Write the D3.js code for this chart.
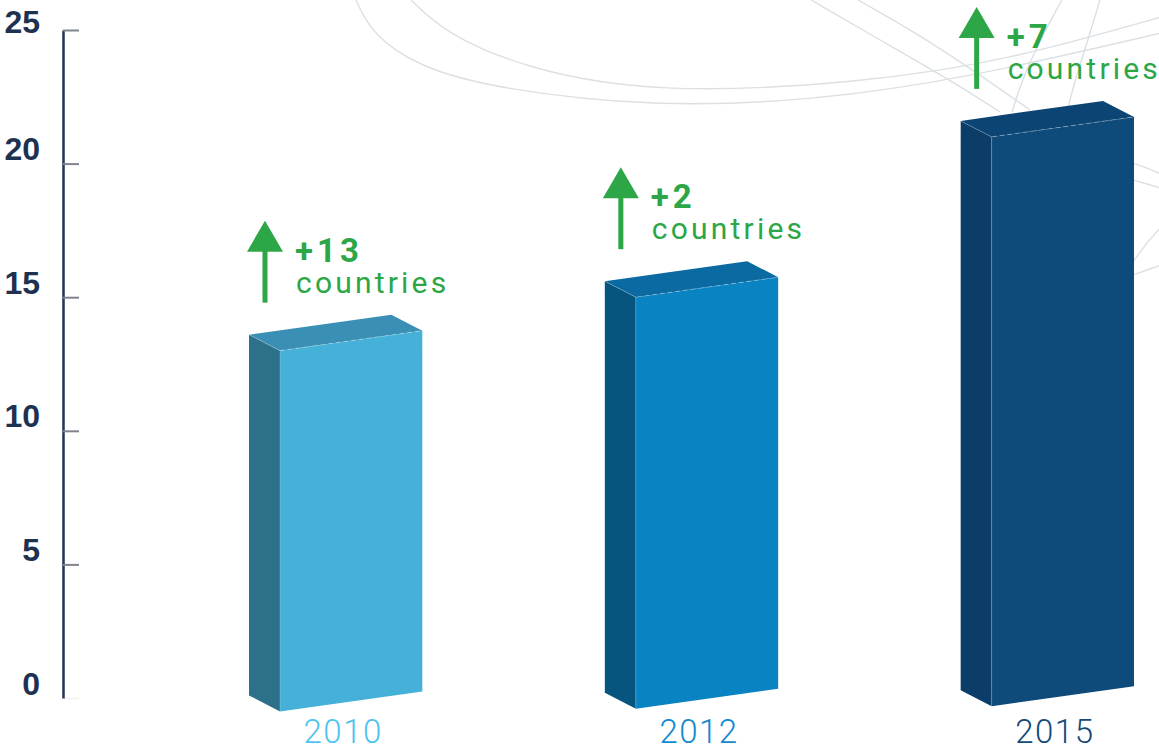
<!DOCTYPE html>
<html>
<head>
<meta charset="utf-8">
<script src="https://cdn.jsdelivr.net/npm/d3@7"></script>
<style>
  body { margin: 0; background: #fff; }
  svg { display: block; font-family: Roboto, 'DejaVu Sans', sans-serif; }
</style>
</head>
<body>
<div id="chart"></div>
<script>
// data
const years = ['2010', '2012', '2015'];
const values = [13, 15, 21];
const changes = ['+13', '+2', '+7'];
const yTicks = [0, 5, 10, 15, 20, 25];

const width = 1159;
const height = 747;

const frontColors = ['#45b0d8', '#0983c2', '#0e4b7b'];
const sideColors = ['#2d7089', '#05557e', '#0b3d68'];
const topColors = ['#3a90b4', '#0a6aa1', '#0c4473'];
const yearColors = ['#4fc3ef', '#1289d0', '#15497a'];
const green = '#2ca646';

const svg = d3
  .select('#chart')
  .append('svg')
  .attr('width', width)
  .attr('height', height);

// faint decorative curves in the background
const deco = [
  [[356, 0], [371, 33], [418, 67], [497, 89], [654, 107], [811, 101], [968, 78], [1161, 33]],
  [[411, 0], [445, 33], [523, 68], [654, 94], [863, 83], [1010, 60], [1161, 17]],
  [[811, 0], [880, 40], [950, 80], [1000, 112]],
  [[858, 0], [920, 35], [980, 75], [1030, 110]],
  [[1062, 0], [1040, 40], [1022, 80], [1012, 112]],
  [[1100, 0], [1088, 40], [1075, 80], [1068, 108]],
  [[1133, 163], [1147, 168], [1161, 174]],
  [[1133, 180], [1147, 184], [1161, 188]],
  [[1133, 262], [1145, 245], [1161, 227]],
  [[1133, 275], [1147, 270], [1161, 265]]
];
const curve = d3.line().curve(d3.curveBasis);
svg.append('g')
  .selectAll('path')
  .data(deco)
  .enter()
  .append('path')
  .attr('d', (d) => curve(d))
  .attr('fill', 'none')
  .attr('stroke', '#dbe0e4')
  .attr('stroke-width', 1.4);

const y = d3.scaleLinear().domain([0, 25]).range([698, 30]);

const x = d3
  .scaleBand()
  .domain(years)
  .range([280, 1134])
  .paddingInner(0.6)
  .paddingOuter(0);

const bw = x.bandwidth();
const rise = 20;          // front face leans up to the right
const depth = [-31, -16]; // side/top face offset

// y axis
const axis = svg.append('g')
  .attr('transform', 'translate(63,0)')
  .call(d3.axisLeft(y).tickValues(yTicks).tickSize(-16).tickSizeOuter(0).tickPadding(23));

axis.select('.domain').attr('stroke', '#1e3553').attr('stroke-width', 2.5);
axis.selectAll('.tick line')
  .attr('stroke', '#80848c')
  .attr('stroke-width', 2)
  .attr('opacity', (d) => (d === 0 ? 0.08 : 1));
axis.selectAll('.tick text')
  .attr('fill', '#1d3250')
  .attr('font-size', 32)
  .attr('font-weight', 700)
  .attr('dy', (d) => (d === 25 ? 2 : -4));

// 3d bars
const pts = (arr) => arr.map((p) => p.join(',')).join(' ');

const bars = years.map((yr, i) => {
  const xl = x(yr);
  const xr = xl + bw;
  const yt = y(values[i]);
  const off = 13.5 - 0.0075 * (xl - 280);
  const yb = y(0) + off;
  const flt = [xl, yt], frt = [xr, yt - rise];
  const flb = [xl, yb], frb = [xr, yb - rise];
  const add = (p) => [p[0] + depth[0], p[1] + depth[1]];
  return { i, xl, xr, yt, flt, frt, flb, frb, add };
});

const g = svg.append('g');
bars.forEach((b) => {
  g.append('polygon')
    .attr('points', pts([b.flt, b.flb, b.add(b.flb), b.add(b.flt)]))
    .attr('fill', sideColors[b.i]);
  g.append('polygon')
    .attr('points', pts([b.flt, b.frt, b.add(b.frt), b.add(b.flt)]))
    .attr('fill', topColors[b.i]);
  g.append('polygon')
    .attr('points', pts([b.flt, b.frt, b.frb, b.flb]))
    .attr('fill', frontColors[b.i]);
  // light edges
  g.append('line')
    .attr('x1', b.flt[0]).attr('y1', b.flt[1])
    .attr('x2', b.frt[0]).attr('y2', b.frt[1])
    .attr('stroke', 'rgba(255,255,255,0.35)')
    .attr('stroke-width', 0.9)
    .attr('stroke-dasharray', '5,3');
  g.append('line')
    .attr('x1', b.flt[0]).attr('y1', b.flt[1])
    .attr('x2', b.flb[0]).attr('y2', b.flb[1])
    .attr('stroke', 'rgba(255,255,255,0.25)')
    .attr('stroke-width', 0.8);
  g.append('line')
    .attr('x1', b.flt[0]).attr('y1', b.flt[1])
    .attr('x2', b.add(b.flt)[0]).attr('y2', b.add(b.flt)[1])
    .attr('stroke', 'rgba(255,255,255,0.25)')
    .attr('stroke-width', 0.8);
});

// year labels
svg.selectAll('.year')
  .data(years)
  .enter()
  .append('text')
  .attr('class', 'year')
  .attr('x', (d) => x(d) + bw / 2 - 8)
  .attr('y', 743)
  .attr('text-anchor', 'middle')
  .attr('font-size', 33)
  .attr('font-weight', 300)
  .attr('letter-spacing', 1.5)
  .attr('fill', (d, i) => yearColors[i])
  .text((d) => d);

// growth arrows + text
bars.forEach((b) => {
  const ax = b.xl - 15;
  const ab = b.yt - 48;
  const a = svg.append('g').attr('fill', green);
  a.append('rect')
    .attr('x', ax - 2.5).attr('y', ab - 52)
    .attr('width', 5).attr('height', 52);
  a.append('polygon')
    .attr('points', pts([[ax - 18, ab - 51], [ax + 18, ab - 51], [ax, ab - 82]]));
  a.append('text')
    .attr('x', ax + 30).attr('y', ab - 41)
    .attr('font-size', 33)
    .attr('font-weight', 700)
    .attr('letter-spacing', 4)
    .text(changes[b.i]);
  a.append('text')
    .attr('x', ax + 31).attr('y', ab - 10)
    .attr('font-size', 30)
    .attr('letter-spacing', 3.2)
    .text('countries');
});
</script>
</body>
</html>
